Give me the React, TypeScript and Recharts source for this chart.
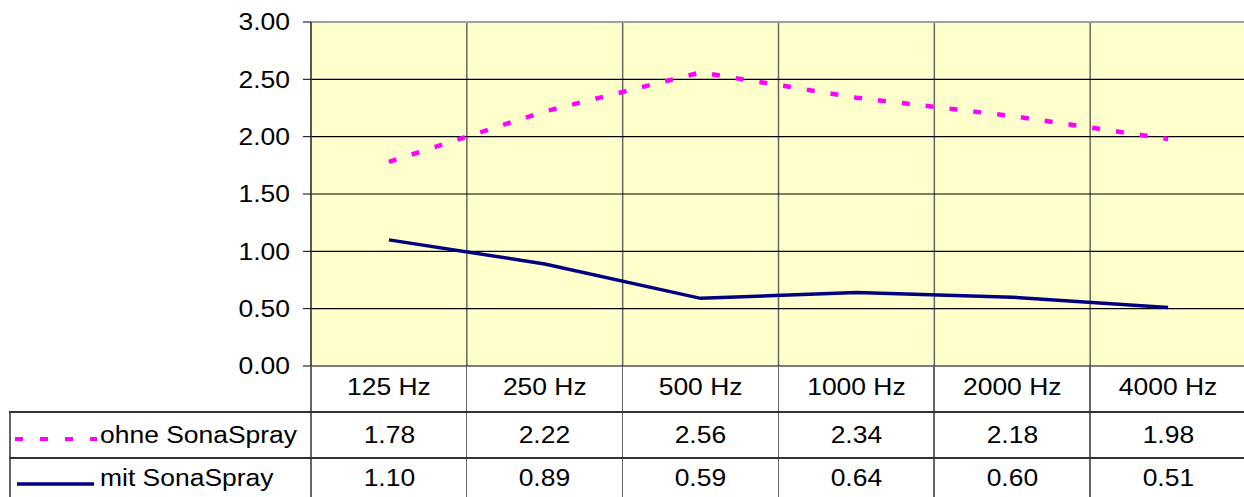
import React from 'react';
import { ComposedChart, Line, XAxis, YAxis, CartesianGrid, ReferenceLine } from 'recharts';

const categories = ['125 Hz', '250 Hz', '500 Hz', '1000 Hz', '2000 Hz', '4000 Hz'];
const ohneValues = [1.78, 2.22, 2.56, 2.34, 2.18, 1.98];
const mitValues = [1.1, 0.89, 0.59, 0.64, 0.6, 0.51];
const yTicks = [0, 0.5, 1, 1.5, 2, 2.5, 3];
const seriesNames = ['ohne SonaSpray', 'mit SonaSpray'];

const data = categories.map((name, i) => ({ name, ohne: ohneValues[i], mit: mitValues[i] }));

const FONT = '"Liberation Sans", Arial, sans-serif';
const FS = 23;
const STRETCH = 1.15;
const CHART_W = 1246;
const CHART_H = 497;
const LEFT = 311;
const TOP = 22;
const PLOT_BOTTOM = 366;
const colW = (CHART_W - LEFT) / categories.length;

const YTick = ({ x, y, payload }: any) => (
  <text
    transform={`translate(${x},${y}) scale(${STRETCH},1)`}
    textAnchor="end"
    dy="0.36em"
    fontSize={FS}
    fontFamily={FONT}
    fill="#000"
  >
    {Number(payload.value).toFixed(2)}
  </text>
);

const XTick = ({ x, y, payload }: any) => (
  <text
    transform={`translate(${x},${y}) scale(${STRETCH},1)`}
    textAnchor="middle"
    dy={29}
    fontSize={FS}
    fontFamily={FONT}
    fill="#000"
  >
    {payload.value}
  </text>
);

const stretched = (origin: string): React.CSSProperties => ({
  display: 'inline-block',
  transform: `scaleX(${STRETCH})`,
  transformOrigin: origin,
  whiteSpace: 'nowrap',
});

const ValueRow = ({ top, height, label, values, sample }: any) => (
  <div style={{ position: 'absolute', left: 0, top, height, width: CHART_W }}>
    <div
      style={{
        position: 'absolute',
        left: 100,
        top: 0,
        height,
        lineHeight: `${height}px`,
        fontSize: FS,
      }}
    >
      <span style={stretched('left center')}>{label}</span>
    </div>
    <div style={{ position: 'absolute', left: 0, top: 0 }}>{sample}</div>
    {values.map((v: number, i: number) => (
      <div
        key={i}
        style={{
          position: 'absolute',
          left: LEFT + i * colW,
          width: colW,
          top: 0,
          height,
          lineHeight: `${height}px`,
          textAlign: 'center',
          fontSize: FS,
        }}
      >
        <span style={stretched('center center')}>{v.toFixed(2)}</span>
      </div>
    ))}
  </div>
);

export default function App() {
  return (
    <div
      style={{
        position: 'absolute',
        left: 0,
        top: 0,
        width: 1244,
        height: 497,
        overflow: 'hidden',
        background: '#fff',
        fontFamily: FONT,
        color: '#000',
      }}
    >
      <ComposedChart
        width={CHART_W}
        height={CHART_H}
        data={data}
        margin={{ top: TOP, right: 0, bottom: 85, left: 0 }}
      >
        <CartesianGrid
          fill="#FFFFCC"
          horizontal={false}
          stroke="#666"
          strokeWidth={1.5}
          verticalCoordinatesGenerator={({ offset }: any) =>
            categories.map((_, i) => offset.left + (i * offset.width) / categories.length)
          }
        />
        <CartesianGrid vertical={false} stroke="#000" strokeWidth={1.2} />
        <XAxis
          dataKey="name"
          scale="band"
          height={46}
          axisLine={false}
          tickLine={false}
          tickSize={0}
          tickMargin={0}
          tick={<XTick />}
          interval={0}
        />
        <YAxis
          domain={[0, 3]}
          ticks={yTicks}
          width={LEFT}
          tickSize={8}
          tickMargin={13}
          axisLine={{ stroke: '#444', strokeWidth: 1.5 }}
          tickLine={{ stroke: '#000' }}
          tick={<YTick />}
          interval={0}
        />
        <ReferenceLine y={3} stroke="#a0a0a0" strokeWidth={2} />
        <Line
          dataKey="ohne"
          stroke="#FF00FF"
          strokeWidth={4.5}
          strokeDasharray="8 16"
          dot={false}
          isAnimationActive={false}
        />
        <Line
          dataKey="mit"
          stroke="#000080"
          strokeWidth={3.5}
          dot={false}
          isAnimationActive={false}
        />
      </ComposedChart>

      {/* data table below the plot */}
      {Array.from({ length: categories.length + 1 }).map((_, i) => (
        <div
          key={`v${i}`}
          style={{
            position: 'absolute',
            left: LEFT + i * colW - 1,
            top: PLOT_BOTTOM,
            width: 1.5,
            height: CHART_H - PLOT_BOTTOM,
            background: '#666',
          }}
        />
      ))}
      <div style={{ position: 'absolute', left: 9, top: 412, width: 1.5, height: 85, background: '#666' }} />
      <div style={{ position: 'absolute', left: 9, top: 411, width: CHART_W, height: 1.5, background: '#333' }} />
      <div style={{ position: 'absolute', left: 9, top: 457, width: CHART_W, height: 1.5, background: '#333' }} />

      <ValueRow
        top={412}
        height={46}
        label={seriesNames[0]}
        values={ohneValues}
        sample={
          <svg width={100} height={46} style={{ display: 'block' }}>
            <line x1={15} y1={27} x2={97} y2={27} stroke="#FF00FF" strokeWidth={4} strokeDasharray="8 17" />
          </svg>
        }
      />
      <ValueRow
        top={458}
        height={40}
        label={seriesNames[1]}
        values={mitValues}
        sample={
          <svg width={100} height={40} style={{ display: 'block' }}>
            <line x1={17} y1={26} x2={94} y2={26} stroke="#000080" strokeWidth={3.5} />
          </svg>
        }
      />
    </div>
  );
}
